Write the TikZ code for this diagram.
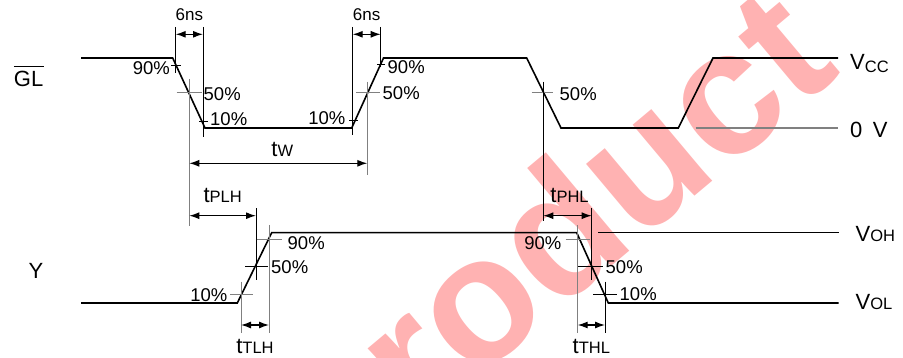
\documentclass[tikz,border=0pt]{standalone}
\usepackage{fontspec}
\setmainfont{Liberation Sans}
\usetikzlibrary{arrows.meta}
\tikzset{%
  wave/.style = {line width=1.6pt, line join=miter},
  guide/.style = {line width=1pt, black!50},
  bguide/.style = {line width=1pt, black},
  dim/.style = {line width=1.2pt, {Latex[length=10pt,width=7pt]}-{Latex[length=10pt,width=7pt]}},
  pct/.style = {inner sep=0pt, font=\fontsize{18.5}{20}\selectfont},
  lvl/.style = {inner sep=0pt, font=\fontsize{22}{24}\selectfont},
  wmark/.style = {inner sep=0pt, rotate=40, text=red!30,
        font=\fontsize{178}{178}\selectfont\bfseries}
}
\newcommand{\sml}[1]{{\fontsize{16.5}{18}\selectfont #1}}

\begin{document}
\begin{tikzpicture}[x=1pt, y=-1pt]
  \useasboundingbox (0,0) rectangle (903,358);
  % watermark
  \begin{scope}
    \clip (0,0) rectangle (903,358);
    \node[wmark] (wm) at (560,250) {product};
  \end{scope}

  % corners of the waveforms
  \coordinate (gA) at (172.7,58);  \coordinate (gB) at (205,128);
  \coordinate (gC) at (351.7,128); \coordinate (gD) at (383.5,58);
  \coordinate (gE) at (526.7,58);  \coordinate (gF) at (561,128);
  \coordinate (gG) at (678.3,128); \coordinate (gH) at (713,58);
  \coordinate (yA) at (237.3,303); \coordinate (yB) at (271.7,232.7);
  \coordinate (yC) at (576.7,232.7); \coordinate (yD) at (608.3,303);

  % GL input
  \draw[wave] (81,58) -- (gA) -- (gB) -- (gC) -- (gD) -- (gE) -- (gF) -- (gG) -- (gH) -- (838,58);
  \draw[line width=1.4pt, black!50] (695.7,128) -- (838,128);
  % Y output
  \draw[wave] (81,303) -- (yA) -- (yB) -- (yC) -- (yD) -- (838.5,303);
  \draw[line width=1.2pt] (598.3,232.3) -- (838.5,232.3);

  % signal and level labels
  \node[lvl, anchor=base east] (gl) at (43.5,87) {GL};
  \draw[line width=1.4pt] ([yshift=5pt]gl.north west) -- ([yshift=5pt]gl.north east);
  \node[lvl, anchor=base east] (y) at (43.5,279) {Y};
  \node[lvl, anchor=base west] (vcc) at (850,70) {V\raisebox{-3pt}{\sml{CC}}};
  \node[lvl, anchor=base west] (zero) at (850,138) {0\hspace{0.2em} V};
  \node[lvl, anchor=base west] (voh) at (855.5,241.7) {V\sml{OH}};
  \node[lvl, anchor=base west] (vol) at (855.5,310) {V\sml{OL}};

  % falling GL edge
  \coordinate (r1a) at (175.7,34.3); \coordinate (r1b) at (203,34.3);
  \draw[bguide] (175.7,27) -- (175.7,72.7);
  \draw[bguide] (203,27) -- (203,136.7);
  \draw[bguide] (171,66) -- (181,66);
  \draw[bguide] (199,121.5) -- (208,121.5);
  \draw[guide] (176.7,92.7) -- (201.7,92.7);
  \draw[guide] (189.3,79) -- (189.3,226);
  \draw[dim] (r1a) -- node[pct, midway, anchor=base, yshift=13.3pt, font=\fontsize{17}{19}\selectfont] {6ns} (r1b);
  \node[pct, anchor=base east] (p90a) at (170,75) {90\%};
  \node[pct, anchor=base west] (p50a) at (203.5,100.5) {50\%};
  \node[pct, anchor=base west] (p10a) at (210,126) {10\%};

  % rising GL edge
  \coordinate (r2a) at (352.7,34.3); \coordinate (r2b) at (380.7,34.3);
  \draw[bguide] (352.7,27) -- (352.7,135);
  \draw[bguide] (380.7,27) -- (380.7,66.7);
  \draw[bguide] (349,121) -- (358,121);
  \draw[bguide] (377,65) -- (385,65);
  \draw[guide] (356,92.7) -- (380,92.7);
  \draw[guide] (367.3,81.7) -- (367.3,175);
  \draw[dim] (r2a) -- node[pct, midway, anchor=base, yshift=13.3pt, font=\fontsize{17}{19}\selectfont] {6ns} (r2b);
  \node[pct, anchor=base east] (p10b) at (345.5,125) {10\%};
  \node[pct, anchor=base west] (p50b) at (382.5,100) {50\%};
  \node[pct, anchor=base west] (p90b) at (387.5,74) {90\%};

  % pulse width
  \coordinate (twa) at (189.3,163.3); \coordinate (twb) at (367.3,163.3);
  \draw[dim] (twa) -- node[lvl, midway, anchor=base, xshift=4pt, yshift=6.3pt] {t\sml{W}} (twb);

  % second falling GL edge
  \draw[guide] (531.7,92.7) -- (553.3,92.7);
  \draw[bguide] (543.3,81.7) -- (543.3,220.7);
  \node[pct, anchor=base west] (p50c) at (559.5,100.7) {50\%};

  % rising Y edge
  \draw[guide] (230,295) -- (253.3,295);
  \draw[guide] (241,281.7) -- (241,333.3);
  \draw[bguide] (245,266.7) -- (268.3,266.7);
  \draw[bguide] (256,208.3) -- (256,280);
  \draw[guide] (256.7,239.3) -- (281.7,239.3);
  \draw[guide] (269,225) -- (269,333.3);
  \node[pct, anchor=base east] (p10d) at (227.5,301.7) {10\%};
  \node[pct, anchor=base west] (p50d) at (271,274) {50\%};
  \node[pct, anchor=base west] (p90d) at (287.5,250) {90\%};
  \coordinate (plha) at (189.3,215.7); \coordinate (plhb) at (256,215.7);
  \draw[dim] (plha) -- node[lvl, midway, anchor=base, yshift=12.7pt] {t\sml{PLH}} (plhb);
  \coordinate (tlha) at (241,325); \coordinate (tlhb) at (269,325);
  \draw[dim] (tlha) -- node[lvl, midway, anchor=base, yshift=-28pt] {t\sml{TLH}} (tlhb);

  % falling Y edge
  \draw[guide] (565.7,239.3) -- (590,239.3);
  \draw[guide] (577.7,225) -- (577.7,333.3);
  \draw[bguide] (578.3,266.7) -- (603.3,266.7);
  \draw[bguide] (591.7,208.3) -- (591.7,280);
  \draw[bguide] (593.3,295) -- (616.7,295);
  \draw[bguide] (605,281.7) -- (605,333.3);
  \node[pct, anchor=base east] (p90e) at (561.5,250) {90\%};
  \node[pct, anchor=base west] (p50e) at (605.5,274) {50\%};
  \node[pct, anchor=base west] (p10e) at (619.5,300.7) {10\%};
  \coordinate (phla) at (543.3,215.7); \coordinate (phlb) at (591.7,215.7);
  \draw[dim] (phla) -- node[lvl, midway, anchor=base, xshift=2pt, yshift=12.7pt] {t\sml{PHL}} (phlb);
  \coordinate (thla) at (577.7,325); \coordinate (thlb) at (605,325);
  \draw[dim] (thla) -- node[lvl, midway, anchor=base, yshift=-28pt] {t\sml{THL}} (thlb);
\end{tikzpicture}
\end{document}
